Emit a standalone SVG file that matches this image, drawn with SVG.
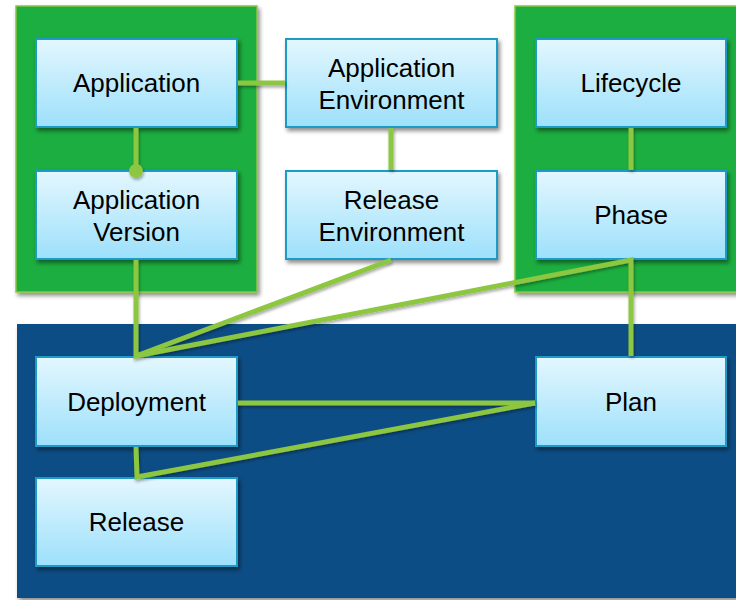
<svg xmlns="http://www.w3.org/2000/svg" width="736" height="600" viewBox="0 0 736 600">
<defs>
<linearGradient id="boxg" x1="0" y1="0" x2="0" y2="1">
<stop offset="0" stop-color="#E3F7FE"/>
<stop offset="1" stop-color="#9DE0FB"/>
</linearGradient>
<filter id="sh" x="-10%" y="-10%" width="130%" height="130%">
<feDropShadow dx="2" dy="3" stdDeviation="2" flood-color="#000" flood-opacity="0.45"/>
</filter>
<filter id="lsh" filterUnits="userSpaceOnUse" x="0" y="0" width="736" height="600">
<feDropShadow dx="1" dy="2" stdDeviation="1.5" flood-color="#000" flood-opacity="0.35"/>
</filter>
</defs>
<style>
.box{fill:url(#boxg);stroke:#1B9BC7;stroke-width:2;filter:url(#sh)}
.gp{fill:#1BAE41;stroke:#8DC63F;stroke-width:1.5;filter:url(#sh)}
.bp{fill:#0B4E85;filter:url(#sh)}
.t{font-family:"Liberation Sans",Arial,sans-serif;font-size:26px;fill:#000;text-anchor:middle}
.c{stroke:#8DC63F;stroke-width:5;fill:none;stroke-linejoin:miter}
</style>
<rect width="736" height="600" fill="#fff"/>
<g id="panels">
<rect class="gp" x="16" y="6" width="241" height="286"/>
<rect class="gp" x="515" y="6" width="225" height="286"/>
<rect class="bp" x="17" y="324" width="723" height="274"/>
</g>
<g id="application"><rect class="box" x="36" y="39" width="201" height="88"/><text class="t" x="136.5" y="92">Application</text></g>
<g id="application-version"><rect class="box" x="36" y="171" width="201" height="88"/><text class="t" x="136.5" y="209">Application</text><text class="t" x="136.5" y="241">Version</text></g>
<g id="application-environment"><rect class="box" x="286" y="39" width="211" height="88"/><text class="t" x="391.5" y="77">Application</text><text class="t" x="391.5" y="109">Environment</text></g>
<g id="release-environment"><rect class="box" x="286" y="171" width="211" height="88"/><text class="t" x="391.5" y="209">Release</text><text class="t" x="391.5" y="241">Environment</text></g>
<g id="lifecycle"><rect class="box" x="536" y="39" width="190" height="88"/><text class="t" x="631" y="92">Lifecycle</text></g>
<g id="phase"><rect class="box" x="536" y="171" width="190" height="88"/><text class="t" x="631" y="224">Phase</text></g>
<g id="deployment"><rect class="box" x="36" y="357" width="201" height="89"/><text class="t" x="136.5" y="411">Deployment</text></g>
<g id="release"><rect class="box" x="36" y="478" width="201" height="88"/><text class="t" x="136.5" y="531">Release</text></g>
<g id="plan"><rect class="box" x="536" y="357" width="190" height="89"/><text class="t" x="631" y="411">Plan</text></g>
<g id="connectors" filter="url(#lsh)">
<line class="c" x1="238" y1="83" x2="285" y2="83"/>
<line class="c" x1="136" y1="128" x2="136" y2="171"/>
<circle cx="136" cy="171" r="7" fill="#8DC63F"/>
<line class="c" x1="391" y1="128" x2="391" y2="170"/>
<line class="c" x1="631" y1="128" x2="631" y2="170"/>
<polyline class="c" points="136,260 136,356 391,260"/>
<polyline class="c" points="136,356 631,260 631,356"/>
<line class="c" x1="238" y1="403" x2="535" y2="403"/>
<polyline class="c" points="136,447 137,477 535,403"/>
</g>
</svg>
